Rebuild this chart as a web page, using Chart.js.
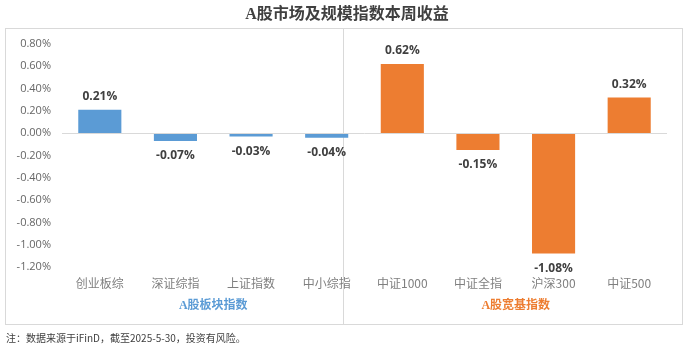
<!DOCTYPE html>
<html><head><meta charset="utf-8">
<script src="https://cdn.jsdelivr.net/npm/chart.js@4/dist/chart.umd.min.js"></script>
<style>html,body{margin:0;padding:0;background:#fff;}#wrap{width:695px;height:351px;}</style>
</head><body><div id="wrap"><canvas id="c" width="695" height="351"></canvas></div>
<script>
const categories = ["创业板综","深证综指","上证指数","中小综指","中证1000","中证全指","沪深300","中证500"];
const values = [0.21,-0.07,-0.03,-0.04,0.62,-0.15,-1.08,0.32];
const groups = ["A股板块指数","A股宽基指数"];
const groupSizes = [4,4];
const tickMin = -1.2, tickMax = 0.8, tickStep = 0.2;
const title = "A股市场及规模指数本周收益";
const note = "注：数据来源于iFinD，截至2025-5-30，投资有风险。";
const BLUE = "#5B9BD5", ORANGE = "#ED7D31";
const barColors = values.map((v,i)=> i < groupSizes[0] ? BLUE : ORANGE);

const deco = {
  id:'deco',
  beforeDraw(chart){
    const ctx = chart.ctx;
    ctx.save();
    ctx.fillStyle = '#fff';
    ctx.fillRect(0,0,chart.width,chart.height);
    ctx.strokeStyle = '#D9D9D9';
    ctx.lineWidth = 1;
    ctx.strokeRect(5.5,28.5,677,296);
    ctx.beginPath(); ctx.moveTo(343.5,29); ctx.lineTo(343.5,324); ctx.stroke();
    ctx.fillStyle = '#404040';
    ctx.font = 'bold 16px "Liberation Serif","Noto Sans CJK SC"';
    ctx.textAlign = 'center'; ctx.textBaseline = 'middle';
    ctx.fillText(title, 347, 15);
    ctx.font = '10px "Noto Sans CJK SC"';
    ctx.textAlign = 'left';
    ctx.fillStyle = '#404040';
    ctx.fillText(note, 6, 338);
    ctx.restore();
  },
  afterDatasetsDraw(chart){
    const ctx = chart.ctx;
    const x = chart.scales.x, y = chart.scales.y;
    ctx.save();
    const y0 = Math.round(y.getPixelForValue(0)) + 0.5;
    ctx.strokeStyle = '#D9D9D9'; ctx.lineWidth = 1;
    ctx.beginPath(); ctx.moveTo(chart.chartArea.left, y0); ctx.lineTo(chart.chartArea.right, y0); ctx.stroke();
    const meta = chart.getDatasetMeta(0);
    ctx.font = 'bold 12px "Open Sans","Liberation Sans"';
    ctx.fillStyle = '#404040';
    ctx.textAlign = 'center'; ctx.textBaseline = 'middle';
    meta.data.forEach((bar,i)=>{
      const v = values[i];
      const yy = v >= 0 ? bar.y - 13 : bar.y + 15;
      ctx.fillText(v.toFixed(2)+'%', bar.x, yy);
    });
    ctx.font = 'bold 12px "Liberation Serif","Noto Sans CJK SC"';
    let start = 0;
    groups.forEach((g,gi)=>{
      const end = start + groupSizes[gi] - 1;
      const cx = (x.getPixelForValue(start) + x.getPixelForValue(end))/2;
      ctx.fillStyle = gi === 0 ? BLUE : ORANGE;
      ctx.fillText(g, cx, 306);
      start = end + 1;
    });
    ctx.restore();
  }
};

new Chart(document.getElementById('c'), {
  type:'bar',
  data:{labels:categories, datasets:[{data:values, backgroundColor:barColors, categoryPercentage:1, barPercentage:0.57}]},
  options:{
    responsive:false, animation:false, devicePixelRatio:1,
    layout:{padding:{left:5,right:28,top:44,bottom:0}},
    plugins:{legend:{display:false}, tooltip:{enabled:false}},
    scales:{
      x:{
        grid:{display:false, drawTicks:false}, border:{display:false},
        ticks:{color:'#7F7F7F', font:{size:12, family:'"Noto Sans CJK SC"'}, padding:9, maxRotation:0},
        afterFit(s){ s.height = 351-267; }
      },
      y:{
        min:tickMin, max:tickMax,
        grid:{display:false, drawTicks:false}, border:{display:false},
        ticks:{stepSize:tickStep, color:'#666666', padding:11, font:{size:11, family:'"Open Sans","Liberation Sans"'},
          callback:v=>v.toFixed(2)+'%'},
        afterFit(s){ s.width = 57; }
      }
    }
  },
  plugins:[deco]
});
</script></body></html>
